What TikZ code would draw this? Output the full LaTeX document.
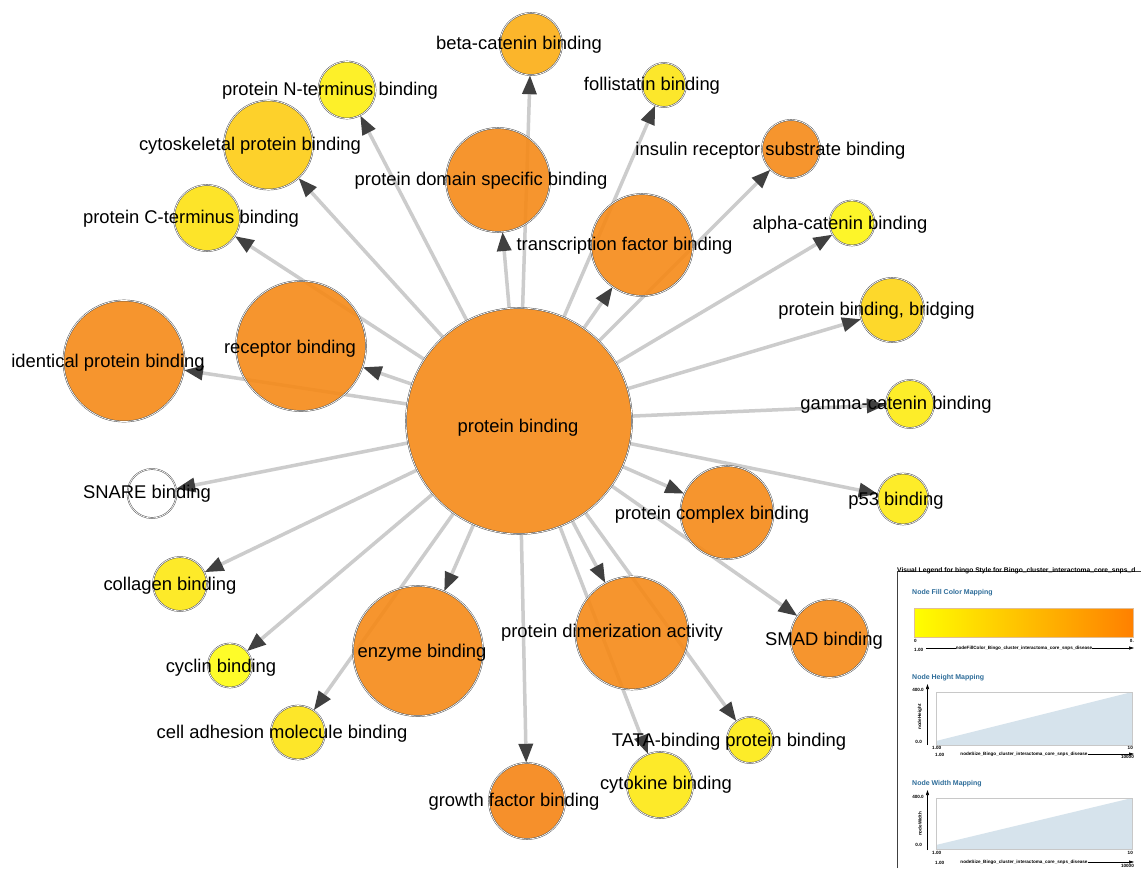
\documentclass[tikz,border=0pt]{standalone}
\usepackage{fontspec}
\setmainfont{Liberation Sans}
\usetikzlibrary{arrows.meta,backgrounds}
\definecolor{cOr}{HTML}{F68A18}
\definecolor{cOrD}{HTML}{F68515}
\definecolor{cBcat}{HTML}{FBAE14}
\definecolor{cNterm}{HTML}{FDEF12}
\definecolor{cFoll}{HTML}{FCE514}
\definecolor{cCyto}{HTML}{FDCD14}
\definecolor{cCterm}{HTML}{FDE212}
\definecolor{cAcat}{HTML}{FDF512}
\definecolor{cBridge}{HTML}{FDD414}
\definecolor{cGcat}{HTML}{FDEC12}
\definecolor{cP53}{HTML}{FDEA12}
\definecolor{cColl}{HTML}{FDE812}
\definecolor{cCyc}{HTML}{FEFC12}
\definecolor{cCam}{HTML}{FDE412}
\definecolor{cTata}{HTML}{FDEA12}
\definecolor{cCyk}{HTML}{FDE812}
\definecolor{nodeline}{HTML}{4A4A4A}
\definecolor{edgegray}{HTML}{CCCCCC}
\definecolor{arrowgray}{HTML}{404040}
\definecolor{legblue}{HTML}{2E6D9A}
\definecolor{plotblue}{HTML}{D6E3EC}
\definecolor{plotframe}{HTML}{C8C8C8}
\tikzset{
  gonode/.style={circle, inner sep=0pt, fill opacity=0.9, draw=nodeline, line width=0.45pt, double=white, double distance=0.7pt},
  lbl/.style={font=\fontsize{18.4}{20}\selectfont, inner sep=0pt, anchor=base, text=black},
  link/.style={draw=edgegray, line width=3.5pt, -{Triangle[length=19pt,width=14pt,color=arrowgray]}},
  legtitle/.style={font=\fontsize{7}{8}\selectfont\bfseries, text=legblue, anchor=west, inner sep=0pt},
  tiny/.style={font=\fontsize{4.6}{5}\selectfont\bfseries, inner sep=0pt, text=black},
  axisarrow/.style={draw=black, line width=0.6pt, -{Triangle[length=5pt,width=3pt]}}
}
\begin{document}
\begin{tikzpicture}[x=1pt,y=-1pt]
\useasboundingbox (0,0) rectangle (1141,868);
% nodes (circles)
\node[gonode, minimum size=226pt, fill=cOr] (pb) at (519,421) {};
\node[gonode, minimum size=62pt, fill=cBcat] (bcat) at (531,44) {};
\node[gonode, minimum size=57pt, fill=cNterm] (nterm) at (347,90) {};
\node[gonode, minimum size=44pt, fill=cFoll] (foll) at (664,85) {};
\node[gonode, minimum size=89pt, fill=cCyto] (cyto) at (268.5,145) {};
\node[gonode, minimum size=104pt, fill=cOr] (pdsb) at (498,180) {};
\node[gonode, minimum size=58pt, fill=cOr] (irs) at (791,149) {};
\node[gonode, minimum size=66pt, fill=cCterm] (cterm) at (207,218) {};
\node[gonode, minimum size=102pt, fill=cOr] (tfb) at (642,245) {};
\node[gonode, minimum size=45pt, fill=cAcat] (acat) at (852,223) {};
\node[gonode, minimum size=64pt, fill=cBridge] (pbb) at (892,310) {};
\node[gonode, minimum size=130pt, fill=cOr] (rec) at (301,346) {};
\node[gonode, minimum size=121pt, fill=cOr] (ident) at (124,361) {};
\node[gonode, minimum size=48pt, fill=cGcat] (gcat) at (910,404) {};
\node[gonode, minimum size=49pt, fill=white] (snare) at (152,493.5) {};
\node[gonode, minimum size=51pt, fill=cP53] (p53) at (903,499) {};
\node[gonode, minimum size=93pt, fill=cOr] (pcx) at (727,512.5) {};
\node[gonode, minimum size=54pt, fill=cColl] (coll) at (180,584) {};
\node[gonode, minimum size=78pt, fill=cOr] (smad) at (829.5,638.5) {};
\node[gonode, minimum size=113pt, fill=cOr] (dim) at (632,633) {};
\node[gonode, minimum size=130pt, fill=cOr] (enz) at (418,651) {};
\node[gonode, minimum size=44pt, fill=cCyc] (cyc) at (230,665.5) {};
\node[gonode, minimum size=54pt, fill=cCam] (cam) at (298,732.5) {};
\node[gonode, minimum size=46pt, fill=cTata] (tata) at (750,740) {};
\node[gonode, minimum size=76pt, fill=cOrD] (gfb) at (527,801) {};
\node[gonode, minimum size=66pt, fill=cCyk] (cyk) at (660,785) {};
% edges
\begin{scope}[on background layer]
\fill[white] (0,0) rectangle (1141,868);
\foreach \t in {bcat,nterm,foll,cyto,pdsb,irs,cterm,tfb,acat,pbb,rec,ident,gcat,snare,p53,pcx,coll,smad,dim,enz,cyc,cam,tata,gfb,cyk}
  \draw[link] (pb) -- (\t);
\end{scope}
% labels
\node[lbl] (pb-l) at (518,432.5) {protein binding};
\node[lbl] (bcat-l) at (519,49.5) {beta-catenin binding};
\node[lbl] (nterm-l) at (330,95.5) {protein N-terminus binding};
\node[lbl] (foll-l) at (652,90.5) {follistatin binding};
\node[lbl] (cyto-l) at (250,150.5) {cytoskeletal protein binding};
\node[lbl] (pdsb-l) at (481,185.5) {protein domain specific binding};
\node[lbl] (irs-l) at (770.5,155.5) {insulin receptor substrate binding};
\node[lbl] (cterm-l) at (191,223.5) {protein C-terminus binding};
\node[lbl] (tfb-l) at (624.5,250.5) {transcription factor binding};
\node[lbl] (acat-l) at (840,229.5) {alpha-catenin binding};
\node[lbl] (pbb-l) at (876.5,315.5) {protein binding, bridging};
\node[lbl] (rec-l) at (290,353) {receptor binding};
\node[lbl] (ident-l) at (108,367) {identical protein binding};
\node[lbl] (gcat-l) at (896,409.5) {gamma-catenin binding};
\node[lbl] (snare-l) at (147,498.5) {SNARE binding};
\node[lbl] (p53-l) at (896,505.5) {p53 binding};
\node[lbl] (pcx-l) at (712,519.5) {protein complex binding};
\node[lbl] (coll-l) at (170,590.5) {collagen binding};
\node[lbl] (smad-l) at (824,645.5) {SMAD binding};
\node[lbl] (dim-l) at (612,637.5) {protein dimerization activity};
\node[lbl] (enz-l) at (422,657.5) {enzyme binding};
\node[lbl] (cyc-l) at (221,672) {cyclin binding};
\node[lbl] (cam-l) at (282,738) {cell adhesion molecule binding};
\node[lbl] (tata-l) at (729,746.5) {TATA-binding protein binding};
\node[lbl] (cyk-l) at (666,789.5) {cytokine binding};
\node[lbl] (gfb-l) at (514,806.5) {growth factor binding};
% legend
\draw[line width=0.8pt, draw=black!75] (897.5,868) -- (897.5,571) -- (1141,571);
\node[font=\fontsize{6.7}{7}\selectfont\bfseries, anchor=west, inner sep=0pt] (legt) at (897,570.5) {Visual Legend for bingo Style for Bingo\_cluster\_interactoma\_core\_snps\_d};
% fill color mapping
\node[legtitle] (fillt) at (912,592.5) {Node Fill Color Mapping};
\shade[left color=yellow, right color={rgb,255:red,255;green,128;blue,0}] (914.5,608) rectangle (1133,637);
\draw[draw={rgb,255:red,225;green,190;blue,150}, line width=0.5pt] (914.5,608) rectangle (1133,637);
\node[tiny, anchor=west] (f0) at (914,640.5) {0};
\node[tiny, anchor=east] (f1) at (1134,640.5) {0.};
\node[tiny, anchor=west] (f2) at (914,649.5) {1.00};
\node[tiny] (fx) at (1024,648) {nodeFillColor\_Bingo\_cluster\_interactoma\_core\_snps\_disease};
\coordinate (fa) at (926,648);
\coordinate (fb) at (1134,648);
\draw[line width=0.5pt] (fa) -- (fx.west);
\draw[axisarrow, line width=0.5pt] (fx.east) -- (fb);
% height mapping
\node[legtitle] (ht) at (912,677.5) {Node Height Mapping};
\fill[plotblue] (936,745) -- (936,741) -- (1132,692) -- (1132,745) -- cycle;
\draw[plotframe, line width=0.6pt] (936,692) rectangle (1132,745);
\coordinate (hy0) at (927.5,745);
\coordinate (hy1) at (927.5,684);
\draw[axisarrow] (hy0) -- (hy1);
\node[tiny, anchor=east] (h400) at (924,690) {400.0};
\node[tiny, anchor=east] (h0) at (922,742) {0.0};
\node[tiny, rotate=90] (hlab) at (920,717) {nodeHeight};
\node[tiny, anchor=west] (hx0) at (932,747.5) {1.00};
\node[tiny, anchor=east] (hx1) at (1133,747.5) {10};
\node[tiny, anchor=west] (hx2) at (935,755) {1.00};
\node[tiny] (hx) at (1024,754) {nodeSize\_Bingo\_cluster\_interactoma\_core\_snps\_disease};
\coordinate (hb) at (1134,754);
\draw[axisarrow, line width=0.5pt] (hx.east) -- (hb);
\node[tiny, anchor=east] (hx3) at (1134,757) {10000};
% width mapping
\node[legtitle] (wt) at (912,784) {Node Width Mapping};
\fill[plotblue] (936,849) -- (936,845) -- (1132,798) -- (1132,849) -- cycle;
\draw[plotframe, line width=0.6pt] (936,798) rectangle (1132,849);
\coordinate (wy0) at (927.5,850);
\coordinate (wy1) at (927.5,790);
\draw[axisarrow] (wy0) -- (wy1);
\node[tiny, anchor=east] (w400) at (924,797) {400.0};
\node[tiny, anchor=east] (w0) at (922,845) {0.0};
\node[tiny, rotate=90] (wlab) at (920,824) {nodeWidth};
\node[tiny, anchor=west] (wx0) at (932,853) {1.00};
\node[tiny, anchor=east] (wx1) at (1133,853) {10};
\node[tiny, anchor=west] (wx2) at (935,863) {1.00};
\node[tiny] (wx) at (1024,862) {nodeSize\_Bingo\_cluster\_interactoma\_core\_snps\_disease};
\coordinate (wb) at (1134,862);
\draw[axisarrow, line width=0.5pt] (wx.east) -- (wb);
\node[tiny, anchor=east] (wx3) at (1134,865.5) {10000};
\end{tikzpicture}
\end{document}
